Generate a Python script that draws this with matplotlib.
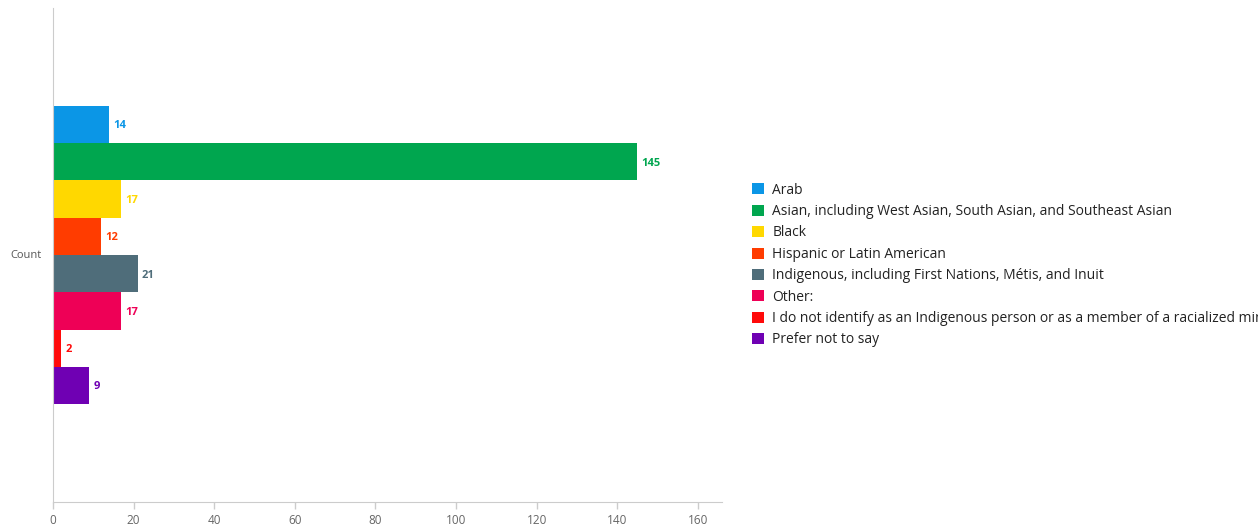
import matplotlib.pyplot as plt
from matplotlib.patches import Patch

plt.rcParams['font.family'] = ['Open Sans', 'DejaVu Sans']

categories = [
    "Arab",
    "Asian, including West Asian, South Asian, and Southeast Asian",
    "Black",
    "Hispanic or Latin American",
    "Indigenous, including First Nations, Métis, and Inuit",
    "Other:",
    "I do not identify as an Indigenous person or as a member of a racialized minority group",
    "Prefer not to say",
]
counts = [14, 145, 17, 12, 21, 17, 2, 9]
colors = ["#0b96e6", "#00a64f", "#ffd800", "#ff3c00",
          "#4f6d7a", "#ee0056", "#ff0a0a", "#6f00b3"]
xticks = [0, 20, 40, 60, 80, 100, 120, 140, 160]

fig = plt.figure(figsize=(12.58, 5.27), dpi=100)
ax = fig.add_axes([0.0421, 0.0474, 0.5318, 0.9374])

ypos = list(range(len(counts)))
ax.barh(ypos, counts, height=1.0, color=colors)
for y, v, c in zip(ypos, counts, colors):
    ax.annotate(str(v), (v, y), xytext=(3, -1), textcoords='offset points',
                va='center', ha='left', fontsize=8, fontweight='bold', color=c)

ax.set_ylim(10.12, -3.12)
ax.set_xlim(0, 166)
ax.set_xticks(xticks)
ax.set_yticks([])
ax.tick_params(axis='x', colors='#cccccc', labelcolor='#666666', labelsize=8.5,
               length=5, width=1)
for s in ['top', 'right']:
    ax.spines[s].set_visible(False)
for s in ['left', 'bottom']:
    ax.spines[s].set_color('#cccccc')
ax.set_ylabel("Count", rotation=0, color='#555555', fontsize=8,
              va='center', ha='center')
ax.yaxis.set_label_coords(-0.0405, 0.5)

handles = [Patch(facecolor=c, edgecolor='none') for c in colors]
fig.legend(handles, categories, loc='center left',
           bbox_to_anchor=(752 / 1258, 0.497), frameon=False,
           borderpad=0, borderaxespad=0, handlelength=0.85, handleheight=0.85,
           handletextpad=0.6, labelspacing=0.46, fontsize=10,
           labelcolor='#222222')

fig.savefig("out.png", dpi=100)
